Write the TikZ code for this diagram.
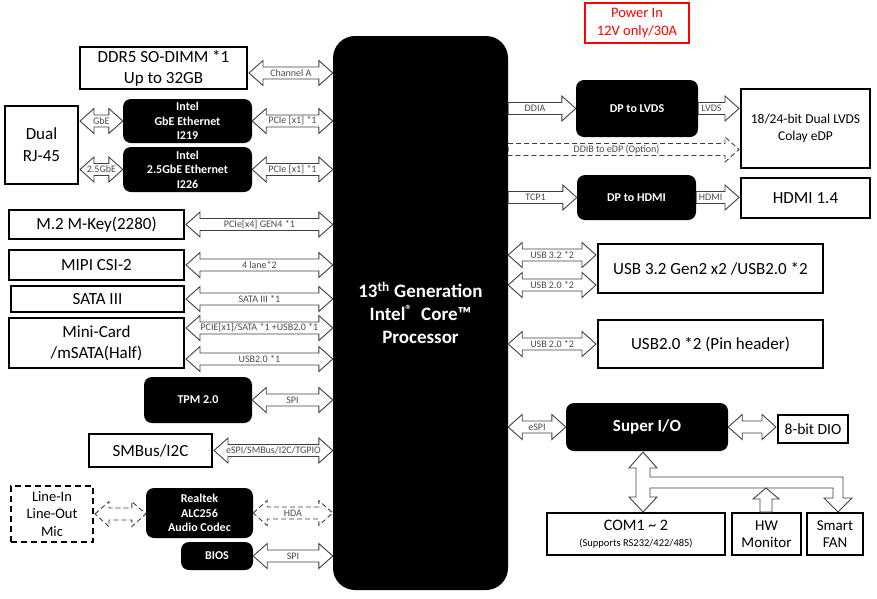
\documentclass[tikz,border=0pt]{standalone}
\usepackage{fontspec}
\setmainfont{Carlito}
\usetikzlibrary{calc}
\def\ahl{14pt}\def\ahh{12.5pt}\def\abh{6pt}
\tikzset{
 wbox/.style={draw=black, line width=1.8pt, fill=white, align=center, inner sep=0pt, outer sep=2pt, font=\fontsize{17}{21}\selectfont},
 bbox/.style={fill=black, rounded corners=8pt, text=white, align=center, inner sep=0pt, font=\bfseries\fontsize{12}{14.5}\selectfont},
 barrow/.style={draw=black!75, line width=0.9pt, fill=white, line join=miter},
 darrow/.style={dash pattern=on 5pt off 3pt},
 lab/.style={text=black!70, font=\fontsize{10}{11}\selectfont, inner sep=0pt},
}
\newcommand{\dblarrow}[4][]{%
  \draw[barrow,#1] let \p1=#2, \p2=#3 in (\x1,\y1) -- (\x1+\ahl,\y1+\ahh) -- (\x1+\ahl,\y1+\abh) -- (\x2-\ahl,\y1+\abh) -- (\x2-\ahl,\y1+\ahh) -- (\x2,\y1) -- (\x2-\ahl,\y1-\ahh) -- (\x2-\ahl,\y1-\abh) -- (\x1+\ahl,\y1-\abh) -- (\x1+\ahl,\y1-\ahh) -- cycle;
  \path let \p1=#2, \p2=#3 in node[lab] at ({(\x1+\x2)/2},\y1) {#4};
}
\newcommand{\sglarrow}[4][]{%
  \draw[barrow,#1] let \p1=#2, \p2=#3 in (\x1,\y1+\abh) -- (\x2-\ahl,\y1+\abh) -- (\x2-\ahl,\y1+\ahh) -- (\x2,\y1) -- (\x2-\ahl,\y1-\ahh) -- (\x2-\ahl,\y1-\abh) -- (\x1,\y1-\abh) -- cycle;
  \path let \p1=#2, \p2=#3 in node[lab] at ({(\x1+\x2-14pt)/2},\y1) {#4};
}
\begin{document}
\begin{tikzpicture}[x=1pt,y=-1pt]
\useasboundingbox (0,0) rectangle (877,598);
% processor
\node[fill=black, rounded corners=22pt, minimum width=175pt, minimum height=554pt, text=white, align=center, inner sep=0pt, font=\bfseries\fontsize{19}{23}\selectfont] (cpu) at (420.5,313) {13\textsuperscript{th} Generation\\Intel\textsuperscript{®}\ \ Core™\\Processor};
% left side
\node[wbox, minimum width=167pt, minimum height=42pt] (ddr) at (163.5,68) {DDR5 SO-DIMM *1\\Up to 32GB};
\node[wbox, minimum width=73pt, minimum height=78pt, font=\fontsize{17}{22}\selectfont] (rj45) at (41.5,145) {Dual\\RJ-45};
\node[bbox, minimum width=129pt, minimum height=44pt] (eth1) at (187.5,121) {Intel\\GbE Ethernet\\I219};
\node[bbox, minimum width=129pt, minimum height=45pt] (eth2) at (187.5,169.5) {Intel\\2.5GbE Ethernet\\I226};
\node[wbox, minimum width=175pt, minimum height=29pt] (m2) at (96.5,224.5) {M.2 M-Key(2280)};
\node[wbox, minimum width=175pt, minimum height=30pt] (mipi) at (96.5,265) {MIPI CSI-2};
\node[wbox, minimum width=173pt, minimum height=26pt] (sata) at (97.5,299) {SATA III};
\node[wbox, minimum width=175pt, minimum height=50pt] (mini) at (96.5,343) {Mini-Card\\/mSATA(Half)};
\node[bbox, minimum width=108pt, minimum height=46pt] (tpm) at (198,400) {TPM 2.0};
\node[wbox, minimum width=123pt, minimum height=33pt] (smbus) at (150.5,450.5) {SMBus/I2C};
\node[wbox, dash pattern=on 6pt off 4pt, minimum width=82pt, minimum height=56pt, font=\fontsize{14.5}{17.5}\selectfont] (line) at (52,514) {Line-In\\Line-Out\\Mic};
\node[bbox, minimum width=107pt, minimum height=50pt] (realtek) at (199.5,513) {Realtek\\ALC256\\Audio Codec};
\node[bbox, minimum width=72pt, minimum height=28pt] (bios) at (217,556) {BIOS};
% right side
\node[draw=red, line width=1.5pt, text=red, align=center, inner sep=0pt, minimum width=104pt, minimum height=40pt, font=\fontsize{14.5}{18}\selectfont] (power) at (637,23) {Power In\\12V only/30A};
\node[bbox, minimum width=122pt, minimum height=57pt] (dplvds) at (637,108.5) {DP to LVDS};
\node[wbox, minimum width=129pt, minimum height=79pt, font=\fontsize{13.5}{16.5}\selectfont] (lvdsbox) at (805.5,128.5) {18/24-bit Dual LVDS\\Colay eDP};
\node[bbox, minimum width=119pt, minimum height=45pt] (dphdmi) at (636.5,197.5) {DP to HDMI};
\node[wbox, minimum width=129pt, minimum height=40pt] (hdmibox) at (805.5,198) {HDMI 1.4};
\node[wbox, minimum width=225pt, minimum height=49pt] (usb32) at (710.5,268.5) {USB 3.2 Gen2 x2 /USB2.0 *2};
\node[wbox, minimum width=225pt, minimum height=48pt] (usbpin) at (710.5,344) {USB2.0 *2 (Pin header)};
\node[bbox, minimum width=162pt, minimum height=48pt, font=\bfseries\fontsize{17}{20}\selectfont] (superio) at (647,427) {Super I/O};
\node[wbox, minimum width=70pt, minimum height=28pt, font=\fontsize{15.5}{18}\selectfont] (dio) at (813,429) {8-bit DIO};
\node[wbox, minimum width=178pt, minimum height=42pt, outer sep=0pt, font=\fontsize{16}{18}\selectfont] (com) at (636,534) {COM1 \textasciitilde\ 2\\[-2pt]{\fontsize{10.5}{12}\selectfont (Supports RS232/422/485)}};
\node[wbox, minimum width=69pt, minimum height=42pt, outer sep=0pt, font=\fontsize{15}{17.5}\selectfont] (hw) at (766.5,534) {HW\\Monitor};
\node[wbox, minimum width=56pt, minimum height=42pt, outer sep=0pt, font=\fontsize{15}{17.5}\selectfont] (fan) at (835,534) {Smart\\FAN};
% left connectors
\coordinate (ddra) at ([yshift=-5pt]ddr.east);
\dblarrow{(ddra)}{(cpu.west |- ddra)}{Channel A}
\dblarrow{(rj45.east |- eth1.west)}{(eth1.west)}{GbE}
\dblarrow{(eth1.east)}{(cpu.west |- eth1.east)}{PCIe [x1] *1}
\dblarrow{(rj45.east |- eth2.west)}{(eth2.west)}{2.5GbE}
\dblarrow{(eth2.east)}{(cpu.west |- eth2.east)}{PCIe [x1] *1}
\dblarrow{(m2.east)}{(cpu.west |- m2.east)}{PCIe[x4] GEN4 *1}
\dblarrow{(mipi.east)}{(cpu.west |- mipi.east)}{4 lane*2}
\dblarrow{(sata.east)}{(cpu.west |- sata.east)}{SATA III *1}
\coordinate (minia) at ([yshift=15pt]mini.east);
\coordinate (minib) at ([yshift=-16pt]mini.east);
\dblarrow{(minia)}{(cpu.west |- minia)}{PCIE[x1]/SATA *1 +USB2.0 *1}
\dblarrow{(minib)}{(cpu.west |- minib)}{USB2.0 *1}
\dblarrow{(tpm.east)}{(cpu.west |- tpm.east)}{SPI}
\dblarrow{(smbus.east)}{(cpu.west |- smbus.east)}{eSPI/SMBus/I2C/TGPIO}
\dblarrow[darrow]{(line.east)}{(realtek.west)}{}
\dblarrow[darrow]{(realtek.east)}{(cpu.west |- realtek.east)}{HDA}
\dblarrow{(bios.east)}{(cpu.west |- bios.east)}{SPI}
% right connectors
\sglarrow{(cpu.east |- dplvds.west)}{(dplvds.west)}{DDIA}
\sglarrow{(dplvds.east)}{(lvdsbox.west |- dplvds.east)}{LVDS}
\coordinate (ddib) at ([yshift=-21pt]lvdsbox.west);
\sglarrow[darrow]{(cpu.east |- ddib)}{(ddib)}{DDIB to eDP (Option)}
\sglarrow{(cpu.east |- dphdmi.west)}{(dphdmi.west)}{TCP1}
\sglarrow{(dphdmi.east)}{(hdmibox.west |- dphdmi.east)}{HDMI}
\coordinate (usba) at ([yshift=13.5pt]usb32.west);
\coordinate (usbb) at ([yshift=-16.5pt]usb32.west);
\dblarrow{(cpu.east |- usba)}{(usba)}{USB 3.2 *2}
\dblarrow{(cpu.east |- usbb)}{(usbb)}{USB 2.0 *2}
\dblarrow{(cpu.east |- usbpin.west)}{(usbpin.west)}{USB 2.0 *2}
\dblarrow{(cpu.east |- superio.west)}{(superio.west)}{eSPI}
\dblarrow{(superio.east)}{(dio.west)}{}
% Super I/O bus
\draw[barrow] (643,452) -- (657,468) -- (650,468) -- (650,477) -- (843,477) -- (843,498) -- (852,498) -- (838,512) -- (824,498) -- (833,498) -- (833,488) -- (650,488) -- (650,497) -- (657,497) -- (643,512) -- (629,497) -- (636,497) -- (636,468) -- (629,468) -- cycle;
\draw[barrow] (766,488) -- (779,499) -- (772,499) -- (772,512) -- (760,512) -- (760,499) -- (753,499) -- cycle;
\end{tikzpicture}
\end{document}
